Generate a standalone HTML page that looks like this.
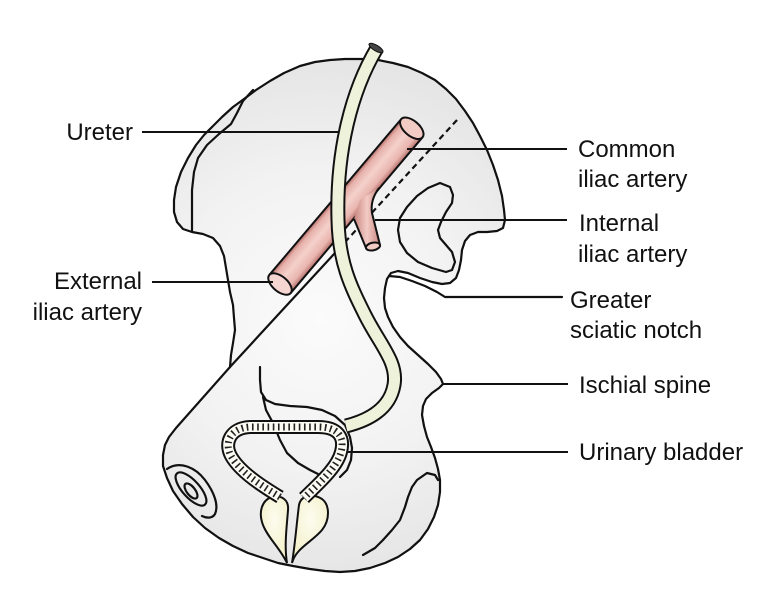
<!DOCTYPE html>
<html><head><meta charset="utf-8"><style>
html,body{margin:0;padding:0;background:#fff;}
svg{display:block;}
text{font-family:"Liberation Sans",sans-serif;font-size:24px;fill:#111;}
</style></head><body>
<svg width="781" height="600" viewBox="0 0 781 600" xmlns="http://www.w3.org/2000/svg">
<defs>
 <radialGradient id="bone" cx="320" cy="320" r="270" gradientUnits="userSpaceOnUse">
  <stop offset="0" stop-color="#fbfbfb"/>
  <stop offset="0.55" stop-color="#f2f2f2"/>
  <stop offset="1" stop-color="#e4e4e4"/>
 </radialGradient>
 <linearGradient id="art" x1="0" y1="0" x2="0" y2="1">
  <stop offset="0" stop-color="#b56c67"/>
  <stop offset="0.15" stop-color="#e6b0aa"/>
  <stop offset="0.45" stop-color="#f5d1cb"/>
  <stop offset="0.8" stop-color="#e9b5af"/>
  <stop offset="1" stop-color="#b6706b"/>
 </linearGradient>
 <linearGradient id="art2" x1="0" y1="0" x2="1" y2="0">
  <stop offset="0" stop-color="#c98680"/>
  <stop offset="0.5" stop-color="#f3cbc5"/>
  <stop offset="1" stop-color="#c98680"/>
 </linearGradient>
 <radialGradient id="bulb" cx="0.5" cy="0.35" r="0.7">
  <stop offset="0" stop-color="#fdfcef"/>
  <stop offset="1" stop-color="#f2efc4"/>
 </radialGradient>
</defs>

<!-- bone -->
<path fill="url(#bone)" stroke="#111" stroke-width="2.2" stroke-linejoin="round"
 d="M230,367 L231,355 233,343 235,330 234,318 233,305 230,292 228,280 226,268 224,256 220,246 213,238 203,234 192,232 183,229 177,222 174,212 174,200 176,187 181,172 188,158 196,145 204,135 213,126 222,117 233,107 244,99 256,90 270,81 284,73 300,66 315,62 330,60 345,59 362,59 378,60 393,63 408,67 422,73 435,80 446,89 456,99 465,111 473,123 480,136 487,150 493,165 498,180 502,196 504,210 505,220 503,228 497,231 487,232 478,232 470,235 465,241 462,250 461,260 459,270 456,278 450,283 442,284 432,282 420,278 408,273 398,271 391,273 387,279 385,288 384,298 385,308 388,317 393,327 400,337 408,346 418,355 428,364 436,372 441,379 443,384 439,388 432,393 426,399 423,406 422,415 424,426 427,437 431,447 435,458 438,469 440,480 440,492 438,505 434,517 428,529 420,540 410,549 398,557 385,563 370,568 355,571 340,572 325,571 310,569 293,566 278,563 263,558 248,553 233,546 219,538 205,528 193,517 182,504 173,491 167,478 163,466 163,455 165,445 169,437 176,428 Z"/>

<g fill="none" stroke="#111" stroke-width="2.2" stroke-linejoin="round" stroke-linecap="round">
 <polyline points="253,90 243,101 237,113 231,124 219,134 207,145 198,158 194,172 192,190 192,210 192,231"/>
 <path d="M440,183 L450,187 453,195 452,203 446,212 441,222 438,230 440,238 446,245 452,252 455,262 452,270 446,272 432,268 418,262 407,253 400,242 398,230 400,218 407,207 417,196 428,188 Z"/>
 <polyline points="389,276 400,277 412,281 425,286 437,292 445,297 562,297"/>
 <line x1="346" y1="241" x2="230" y2="367"/>
 <line x1="457" y1="120" x2="346" y2="241" stroke-dasharray="6 4" stroke-linecap="butt"/>
 <polyline points="363,555 375,548 383,540 392,530 400,520 405,507 408,497 412,487 417,480 427,473 435,475 438,480"/>
 <polyline points="260,367 260,380 261,392 266,400 275,404 290,406 307,407 322,410 335,416 345,425 350,437 352,448 351,460 347,470 340,477"/>
 <polyline points="263,397 266,410 273,423 280,440 287,453 298,463 310,470 318,474"/>
 <path d="M167,469 C180,460 196,468 205,480 C214,492 219,505 215,514 C212,519 206,518 202,516"/>
 <ellipse cx="191" cy="489" rx="21" ry="8.5" transform="rotate(48 191 489)"/>
 <ellipse cx="191" cy="491" rx="9" ry="4.2" transform="rotate(52 191 491)"/>
</g>

<!-- artery main -->
<g transform="translate(280,284) rotate(-49.76)">
 <rect x="0" y="-14" width="204" height="28" fill="url(#art)"/>
 <line x1="0" y1="-14" x2="204" y2="-14" stroke="#111" stroke-width="2"/>
 <line x1="0" y1="14" x2="204" y2="14" stroke="#111" stroke-width="2"/>
 <ellipse cx="204" cy="0" rx="7.5" ry="14" fill="#f3cbc5" stroke="#111" stroke-width="2"/>
 <ellipse cx="0" cy="0" rx="7.5" ry="14" fill="#f6d6d1" stroke="#111" stroke-width="2"/>
</g>
<!-- internal iliac branch -->
<path d="M354,219 L366,248 L380,245 L372,213 Q370,200 379,188 L360,200 Z" fill="url(#art2)"/>
<path d="M354,219 L366,248 M380,245 L372,213 Q370,200 379,188" fill="none" stroke="#111" stroke-width="2"/>
<ellipse cx="373" cy="246.5" rx="7.2" ry="3.8" transform="rotate(-12 373 246.5)" fill="#f3cbc5" stroke="#111" stroke-width="2"/>

<!-- ureter -->
<path d="M377,48 C352,90 336,150 338,220 C339,262 350,285 365,315 C380,345 398,362 394,385 C390,408 370,420 346,426" fill="none" stroke="#111" stroke-width="15"/>
<path d="M377,48 C352,90 336,150 338,220 C339,262 350,285 365,315 C380,345 398,362 394,385 C390,408 370,420 346,426" fill="none" stroke="#eff2da" stroke-width="11"/>
<ellipse cx="376" cy="48" rx="8" ry="2.8" transform="rotate(31 376 48)" fill="#444" stroke="#111" stroke-width="1"/>

<!-- bulbs -->
<path d="M287,563 C280,548 268,538 263,525 C258,512 262,500 272,497 C282,495 289,500 288,510 C287,525 284,545 287,563 Z" fill="url(#bulb)" stroke="#111" stroke-width="2"/>
<path d="M292,563 C296,548 312,542 322,530 C330,520 330,505 322,499 C313,493 301,495 299,505 C297,520 295,545 292,563 Z" fill="url(#bulb)" stroke="#111" stroke-width="2"/>

<!-- bladder wall -->
<path d="M280,497 C262,486 240,472 231,456 C224,443 230,428 250,427 L318,427 C338,427 345,437 341,452 C337,468 318,484 304,498" fill="none" stroke="#111" stroke-width="14"/>
<path d="M280,497 C262,486 240,472 231,456 C224,443 230,428 250,427 L318,427 C338,427 345,437 341,452 C337,468 318,484 304,498" fill="none" stroke="#fcfcf4" stroke-width="10"/>
<path d="M280,497 C262,486 240,472 231,456 C224,443 230,428 250,427 L318,427 C338,427 345,437 341,452 C337,468 318,484 304,498" fill="none" stroke="#222" stroke-width="7" stroke-dasharray="1.6 3.6"/>

<!-- leader lines -->
<g stroke="#111" stroke-width="2">
 <line x1="142" y1="132" x2="339" y2="132"/>
 <line x1="152" y1="282" x2="273" y2="282"/>
 <line x1="407" y1="149" x2="567" y2="149"/>
 <line x1="375" y1="220" x2="567" y2="220"/>
 <line x1="443" y1="384" x2="568" y2="384"/>
 <line x1="347" y1="452" x2="568" y2="452"/>
</g>

<!-- labels -->
<text x="133" y="140" text-anchor="end">Ureter</text>
<text x="142" y="289" text-anchor="end">External</text>
<text x="142" y="320" text-anchor="end">iliac artery</text>
<text x="578" y="157">Common</text>
<text x="578" y="187">iliac artery</text>
<text x="579" y="231">Internal</text>
<text x="578" y="262">iliac artery</text>
<text x="570" y="308">Greater</text>
<text x="570" y="338">sciatic notch</text>
<text x="579" y="393">Ischial spine</text>
<text x="579" y="460">Urinary bladder</text>
</svg>
</body></html>
